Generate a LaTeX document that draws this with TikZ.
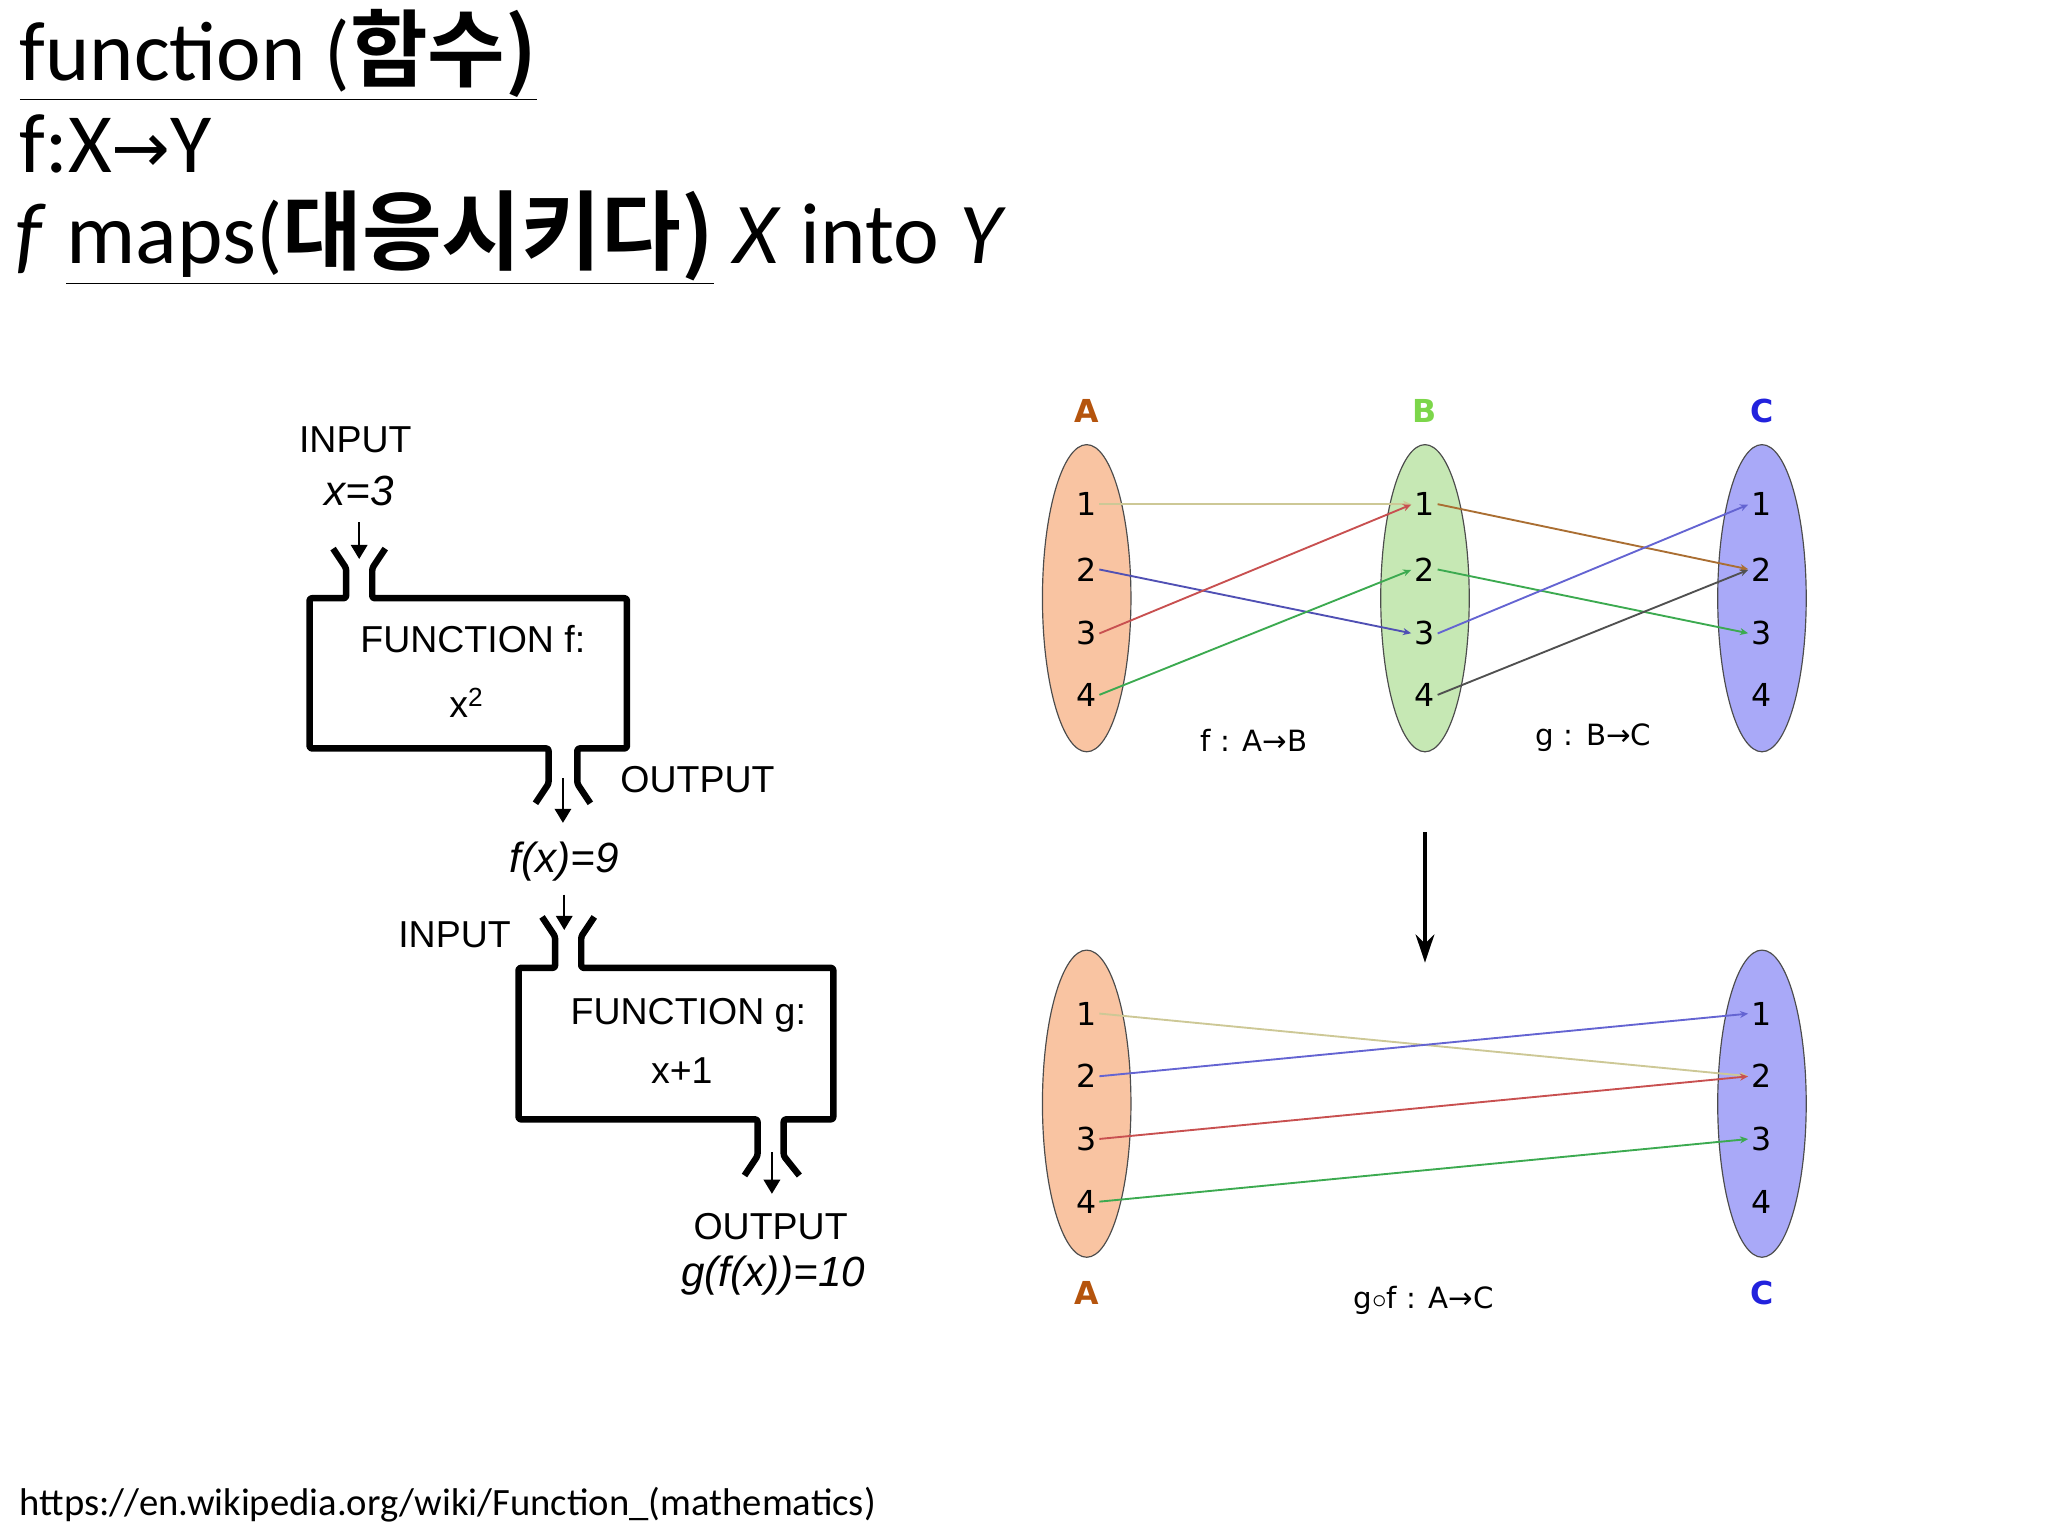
\documentclass[tikz,border=0pt]{standalone}
\usepackage{fontspec}
\setmainfont{Carlito}
\newfontfamily\krfont{Noto Sans CJK KR}[BoldFont={* Bold}]
\newfontfamily\diagfont{Liberation Sans}
\newfontfamily\setfont{DejaVu Sans}
\usetikzlibrary{arrows.meta,shapes.geometric}
\definecolor{ca}{HTML}{F9C4A2}\definecolor{cb}{HTML}{C6E8B4}\definecolor{cc}{HTML}{A9A9F8}
\definecolor{la}{HTML}{B5540D}\definecolor{lb}{HTML}{7CD64A}\definecolor{lc}{HTML}{2222DD}
\newcommand{\rar}{{\setfont →}}
\tikzset{
 funnel/.style={line width=5.5pt,line join=round,rounded corners=2pt},
 dtext/.style={font=\diagfont\fontsize{32}{36}\selectfont,inner sep=0pt},
 itext/.style={font=\diagfont\itshape\fontsize{36}{40}\selectfont,inner sep=0pt},
 num/.style={font=\setfont\fontsize{27}{30}\selectfont,inner sep=2pt},
 setlab/.style={font=\setfont\bfseries\fontsize{27}{30}\selectfont,inner sep=0pt},
 maplab/.style={font=\setfont\fontsize{25}{28}\selectfont,inner sep=0pt},
 setell/.style={draw=black!70,line width=1pt,ellipse,minimum width=68pt*1.111,minimum height=236pt*1.111},
 edge/.style={line width=1.6pt,-{Stealth[length=7pt,width=6pt]},shorten >=1pt},
 smallarr/.style={line width=1.8pt,-{Triangle[length=12pt,width=14pt]}}
}
\begin{document}
\begin{tikzpicture}[x=0.03918cm,y=-0.03918cm]
\useasboundingbox (0,0) rectangle (1568,1176);
% titles
\node[anchor=base west,inner sep=0pt,font=\fontsize{72}{80}\selectfont] (t1) at (15,62) {\underline{function (\krfont\bfseries 함수)}};
\node[anchor=base west,inner sep=0pt,font=\fontsize{72}{80}\selectfont] (t2) at (15,132) {f:X{\setfont\fontsize{60}{70}\selectfont →}Y};
\node[anchor=base west,inner sep=0pt,font=\fontsize{74}{80}\selectfont] (t3) at (12,202) {\textit{f} \underline{maps(\krfont\bfseries 대응시키다)} \textit{X} into \textit{Y}};
\node[anchor=base west,inner sep=0pt,font=\fontsize{33}{36}\selectfont] (url) at (15,1160) {https://en.wikipedia.org/wiki/Function\_(mathematics)};
% left machine
\node[dtext] (in1) at (272,337) {INPUT};
\node[itext] (x3) at (275,376) {x=3};
\coordinate (i1s) at (275,400); \coordinate (i1e) at (275,428);
\draw[smallarr] (i1s) -- (i1e);
\draw[funnel] (255,420)--(265,435)--(265,458)--(237,458)--(237,573)--(420,573)--(420,600)--(410,615);
\draw[funnel] (295,420)--(285,435)--(285,458)--(480,458)--(480,573)--(442,573)--(442,600)--(452,615);
\node[dtext] (f1) at (362,489) {FUNCTION f:};
\node[dtext] (f1b) at (357,538) {x\textsuperscript{2}};
\coordinate (o1s) at (431,596); \coordinate (o1e) at (431,630);
\draw[smallarr] (o1s) -- (o1e);
\node[dtext] (out1) at (534,597) {OUTPUT};
\node[itext] (fx) at (432,660) {f(x)=9};
\coordinate (i2s) at (432,685); \coordinate (i2e) at (432,712);
\draw[smallarr] (i2s) -- (i2e);
\node[dtext] (in2) at (348,716) {INPUT};
\draw[funnel] (415,702)--(425,717)--(425,741)--(397,741)--(397,857)--(580,857)--(580,885)--(570,900);
\draw[funnel] (455,702)--(445,717)--(445,741)--(638,741)--(638,857)--(600,857)--(600,885)--(612,900);
\node[dtext] (g1) at (527,777) {FUNCTION g:};
\node[dtext] (g1b) at (522,820) {x+1};
\coordinate (o2s) at (591,882); \coordinate (o2e) at (591,914);
\draw[smallarr] (o2s) -- (o2e);
\node[dtext] (out2) at (590,939) {OUTPUT};
\node[itext] (gfx) at (592,977) {g(f(x))=10};
% right: top
\node[setell,fill=ca] (EA) at (832,458) {};
\node[setell,fill=cb] (EB) at (1091,458) {};
\node[setell,fill=cc] (EC) at (1349,458) {};
\node[setlab,text=la] (LA) at (832,315) {A};
\node[setlab,text=lb] (LB) at (1091,315) {B};
\node[setlab,text=lc] (LC) at (1349,315) {C};
\foreach \i/\y in {1/386,2/436,3/485,4/532}{
 \node[num] (a\i) at (832,\y) {\i};
 \node[num] (b\i) at (1091,\y) {\i};
 \node[num] (c\i) at (1349,\y) {\i};
}
\draw[edge,draw={rgb,255:red,205;green,200;blue,150}] (a1.east) -- (b1.west);
\draw[edge,draw={rgb,255:red,80;green,80;blue,180}] (a2.east) -- (b3.west);
\draw[edge,draw={rgb,255:red,200;green,80;blue,80}] (a3.east) -- (b1.west);
\draw[edge,draw={rgb,255:red,60;green,170;blue,80}] (a4.east) -- (b2.west);
\draw[edge,draw={rgb,255:red,170;green,110;blue,50}] (b1.east) -- (c2.west);
\draw[edge,draw={rgb,255:red,60;green,170;blue,80}] (b2.east) -- (c3.west);
\draw[edge,draw={rgb,255:red,100;green,100;blue,210}] (b3.east) -- (c1.west);
\draw[edge,draw={rgb,255:red,80;green,80;blue,80}] (b4.east) -- (c2.west);
\node[maplab] (fab) at (960,567) {f : A\rar B};
\node[maplab] (gbc) at (1220,565) {g : B\rar C};
\coordinate (bas) at (1091,637); \coordinate (bae) at (1091,737);
\draw[line width=2.8pt,-{Stealth[length=24pt,width=16pt]}] (bas) -- (bae);
% right: bottom
\node[setell,fill=ca] (EA2) at (832,845) {};
\node[setell,fill=cc] (EC2) at (1349,845) {};
\foreach \i/\y in {1/776,2/824,3/872,4/920}{
 \node[num] (p\i) at (832,\y) {\i};
 \node[num] (q\i) at (1349,\y) {\i};
}
\draw[edge,draw={rgb,255:red,205;green,200;blue,150}] (p1.east) -- (q2.west);
\draw[edge,draw={rgb,255:red,100;green,100;blue,210}] (p2.east) -- (q1.west);
\draw[edge,draw={rgb,255:red,200;green,80;blue,80}] (p3.east) -- (q2.west);
\draw[edge,draw={rgb,255:red,60;green,170;blue,80}] (p4.east) -- (q3.west);
\node[setlab,text=la] (LA2) at (832,990) {A};
\node[setlab,text=lc] (LC2) at (1349,990) {C};
\node[maplab] (gof) at (1090,996) {g$\circ$f : A\rar C};
\end{tikzpicture}
\end{document}
